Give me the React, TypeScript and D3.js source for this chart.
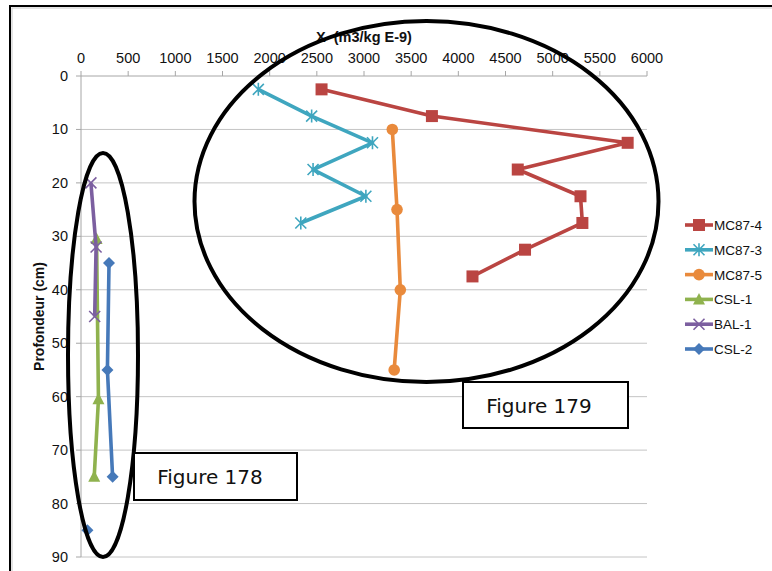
import React from "react";
import * as d3 from "d3";

const xTicks = [0, 500, 1000, 1500, 2000, 2500, 3000, 3500, 4000, 4500, 5000, 5500, 6000];
const yTicks = [0, 10, 20, 30, 40, 50, 60, 70, 80, 90];

const seriesNames = ["MC87-4", "MC87-3", "MC87-5", "CSL-1", "BAL-1", "CSL-2"];

const depthsMC874 = [2.5, 7.5, 12.5, 17.5, 22.5, 27.5, 32.5, 37.5];
const valuesMC874 = [2550, 3720, 5795, 4630, 5295, 5315, 4707, 4150];

const depthsMC873 = [2.5, 7.5, 12.5, 17.5, 22.5, 27.5];
const valuesMC873 = [1880, 2445, 3090, 2460, 3020, 2330];

const depthsMC875 = [10, 25, 40, 55];
const valuesMC875 = [3300, 3350, 3385, 3320];

const depthsCSL1 = [30.5, 60.5, 75];
const valuesCSL1 = [165, 185, 140];

const depthsBAL1 = [20, 32, 45];
const valuesBAL1 = [105, 160, 145];

const depthsCSL2 = [35, 55, 75, 80, 85];
const valuesCSL2: (number | null)[] = [297, 280, 335, null, 68];

const figureLabels = ["Figure 179", "Figure 178"];

const colors = ["#BA4542", "#3FA6BF", "#E98A3C", "#8FB24E", "#7C5FA0", "#4679B9"];
const markers = ["square", "star", "circle", "triangle", "x", "diamond"];

type Pt = { x: number | null; y: number };

const seriesData: Pt[][] = [
  depthsMC874.map((d, i) => ({ y: d, x: valuesMC874[i] })),
  depthsMC873.map((d, i) => ({ y: d, x: valuesMC873[i] })),
  depthsMC875.map((d, i) => ({ y: d, x: valuesMC875[i] })),
  depthsCSL1.map((d, i) => ({ y: d, x: valuesCSL1[i] })),
  depthsBAL1.map((d, i) => ({ y: d, x: valuesBAL1[i] })),
  depthsCSL2.map((d, i) => ({ y: d, x: valuesCSL2[i] })),
];

const W = 772;
const H = 571;
const left = 81;
const right = 647;
const top = 76;
const bottom = 557;

const xScale = d3.scaleLinear().domain([0, 6000]).range([left, right]);
const yScale = d3.scaleLinear().domain([0, 90]).range([top, bottom]);

function Marker({ type, x, y, color }: { type: string; x: number; y: number; color: string }) {
  if (type === "square") {
    return <rect x={x - 6} y={y - 6} width={12} height={12} fill={color} />;
  }
  if (type === "circle") {
    return <circle cx={x} cy={y} r={5.8} fill={color} />;
  }
  if (type === "triangle") {
    const p = d3.path();
    p.moveTo(x, y - 6.5);
    p.lineTo(x + 6, y + 5);
    p.lineTo(x - 6, y + 5);
    p.closePath();
    return <path d={p.toString()} fill={color} />;
  }
  if (type === "diamond") {
    const p = d3.path();
    p.moveTo(x, y - 6);
    p.lineTo(x + 6, y);
    p.lineTo(x, y + 6);
    p.lineTo(x - 6, y);
    p.closePath();
    return <path d={p.toString()} fill={color} />;
  }
  if (type === "x" || type === "star") {
    const s = 5.5;
    const p = d3.path();
    p.moveTo(x - s, y - s);
    p.lineTo(x + s, y + s);
    p.moveTo(x - s, y + s);
    p.lineTo(x + s, y - s);
    if (type === "star") {
      p.moveTo(x, y - s - 1);
      p.lineTo(x, y + s + 1);
    }
    return <path d={p.toString()} stroke={color} strokeWidth={1.6} fill="none" />;
  }
  return null;
}

export default function App() {
  const line = d3
    .line<Pt>()
    .defined((d) => d.x !== null)
    .x((d) => xScale(d.x as number))
    .y((d) => yScale(d.y));

  const legendX = 685;
  const legendY0 = 225;
  const legendStep = 24.8;

  return (
    <svg
      width={W}
      height={H}
      style={{ position: "absolute", left: 0, top: 0, background: "#fff" }}
      fontFamily="'Liberation Sans', Arial, sans-serif"
    >
      <rect x={0} y={0} width={W} height={H} fill="#fff" />
      <rect x={10} y={6} width={W + 20} height={H + 20} fill="none" stroke="#000" strokeWidth={2} />
      <rect x={12} y={8} width={W + 20} height={H + 20} fill="none" stroke="#c8c8c8" strokeWidth={1} />

      {yTicks.slice(1).map((t) => (
        <line key={"g" + t} x1={left} x2={right} y1={yScale(t)} y2={yScale(t)} stroke="#c4c4c4" strokeWidth={1} />
      ))}

      <line x1={left} x2={right} y1={top} y2={top} stroke="#a6a6a6" strokeWidth={1} />
      {xTicks.map((t) => (
        <g key={"xt" + t}>
          <line x1={xScale(t)} x2={xScale(t)} y1={top - 5} y2={top} stroke="#a6a6a6" />
          <text x={xScale(t)} y={63} textAnchor="middle" fontSize={14.5} fill="#111">
            {t}
          </text>
        </g>
      ))}
      <text x={(left + right) / 2} y={42} textAnchor="middle" fontSize={14.5} fontWeight="bold" fill="#111">
        {"X\u00a0 (m3/kg E-9)"}
      </text>

      <line x1={left} x2={left} y1={top} y2={bottom} stroke="#a6a6a6" strokeWidth={1} />
      {yTicks.map((t) => (
        <g key={"yt" + t}>
          <line x1={left - 5} x2={left} y1={yScale(t)} y2={yScale(t)} stroke="#a6a6a6" />
          <text x={68} y={yScale(t) + 5} textAnchor="end" fontSize={14.5} fill="#111">
            {t}
          </text>
        </g>
      ))}
      <text
        transform={`translate(44, ${(top + bottom) / 2}) rotate(-90)`}
        textAnchor="middle"
        fontSize={14}
        fontWeight="bold"
        fill="#111"
      >
        Profondeur (cm)
      </text>

      {seriesData.map((s, i) => (
        <g key={"s" + i}>
          <path d={line(s) || ""} fill="none" stroke={colors[i]} strokeWidth={3.6} strokeLinejoin="round" />
          {s
            .filter((d) => d.x !== null)
            .map((d, j) => (
              <Marker key={j} type={markers[i]} x={xScale(d.x as number)} y={yScale(d.y)} color={colors[i]} />
            ))}
        </g>
      ))}

      {seriesNames.map((n, i) => {
        const y = legendY0 + i * legendStep;
        return (
          <g key={"l" + n}>
            <line x1={legendX} x2={legendX + 28} y1={y} y2={y} stroke={colors[i]} strokeWidth={3.6} />
            <Marker type={markers[i]} x={legendX + 14} y={y} color={colors[i]} />
            <text x={legendX + 29} y={y + 5} fontSize={13.5} fill="#111">
              {n}
            </text>
          </g>
        );
      })}

      <ellipse cx={426.5} cy={201.5} rx={232} ry={180.5} fill="none" stroke="#000" strokeWidth={4} />
      <ellipse cx={103} cy={355} rx={35} ry={202} fill="none" stroke="#000" strokeWidth={4} />

      <rect x={463} y={382} width={165} height={46} fill="#fff" stroke="#000" strokeWidth={2} />
      <text x={539} y={413} textAnchor="middle" fontSize={20} fontFamily="'DejaVu Sans', sans-serif" fill="#111">
        {figureLabels[0]}
      </text>
      <rect x={134} y={453} width={163} height={47} fill="#fff" stroke="#000" strokeWidth={2} />
      <text x={210} y={484} textAnchor="middle" fontSize={20} fontFamily="'DejaVu Sans', sans-serif" fill="#111">
        {figureLabels[1]}
      </text>
    </svg>
  );
}
